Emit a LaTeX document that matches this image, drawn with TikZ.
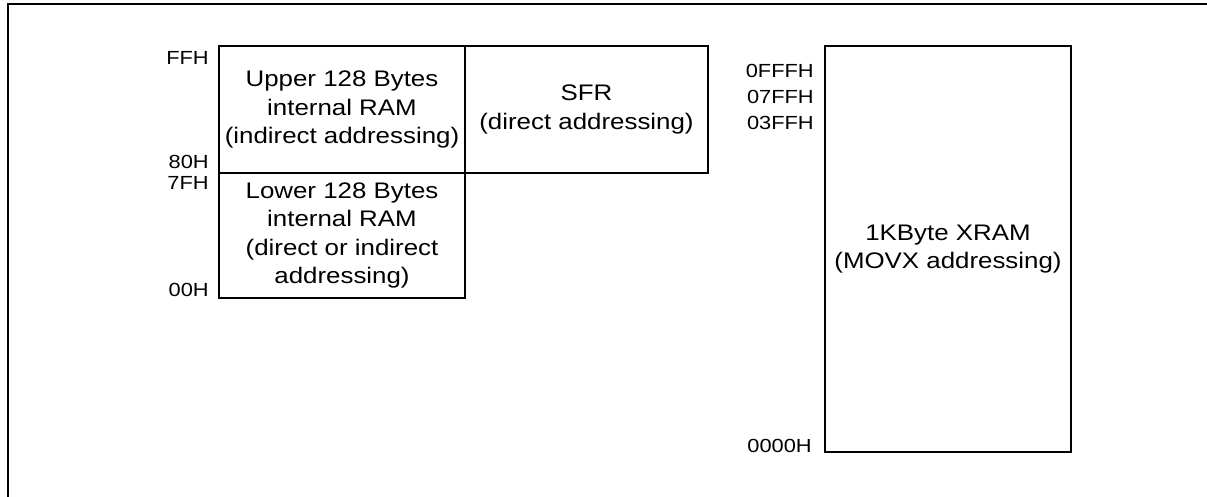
\documentclass[tikz,border=0pt]{standalone}
\usepackage{fontspec}
\setmainfont[FakeStretch=1.15]{Liberation Sans}
\begin{document}
\begin{tikzpicture}
[
	x=0.025cm,y=-0.025cm,
	blk/.style={rectangle,draw,line width=1.4pt,align=center,inner sep=0,font=\fontsize{16}{20.3}\selectfont},
	adr/.style={anchor=base east,inner sep=0,font=\fontsize{13.5}{15}\selectfont}
]

\useasboundingbox (0,0) rectangle (1207,497);

\coordinate (ftl) at (8,4);
\coordinate (ftr) at (1207,4);
\coordinate (fbl) at (8,497);
\draw[line width=1.4pt] (ftr) -- (ftl) -- (fbl);

\node[blk,minimum width=6.15cm,minimum height=3.175cm] (up) at (342,109.5) {Upper 128 Bytes\\internal RAM\\(indirect addressing)};
\node[blk,minimum width=6.075cm,minimum height=3.175cm] (sfr) at (586.5,109.5) {SFR\\(direct addressing)};
\node[blk,minimum width=6.15cm,minimum height=3.125cm] (low) at (342,235.5) {Lower 128 Bytes\\internal RAM\\(direct or indirect\\addressing)};
\node[blk,minimum width=6.15cm,minimum height=10.15cm] (xram) at (948,249) {1KByte XRAM\\(MOVX addressing)};

\node[adr] (aff) at (209,65) {FFH};
\node[adr] (a80) at (209,169) {80H};
\node[adr] (a7f) at (209,190) {7FH};
\node[adr] (a00) at (209,297) {00H};

\node[adr] (x0fff) at (814,78) {0FFFH};
\node[adr] (x07ff) at (814,104) {07FFH};
\node[adr] (x03ff) at (814,130) {03FFH};
\node[adr] (x0000) at (812,452) {0000H};

\end{tikzpicture}
\end{document}
